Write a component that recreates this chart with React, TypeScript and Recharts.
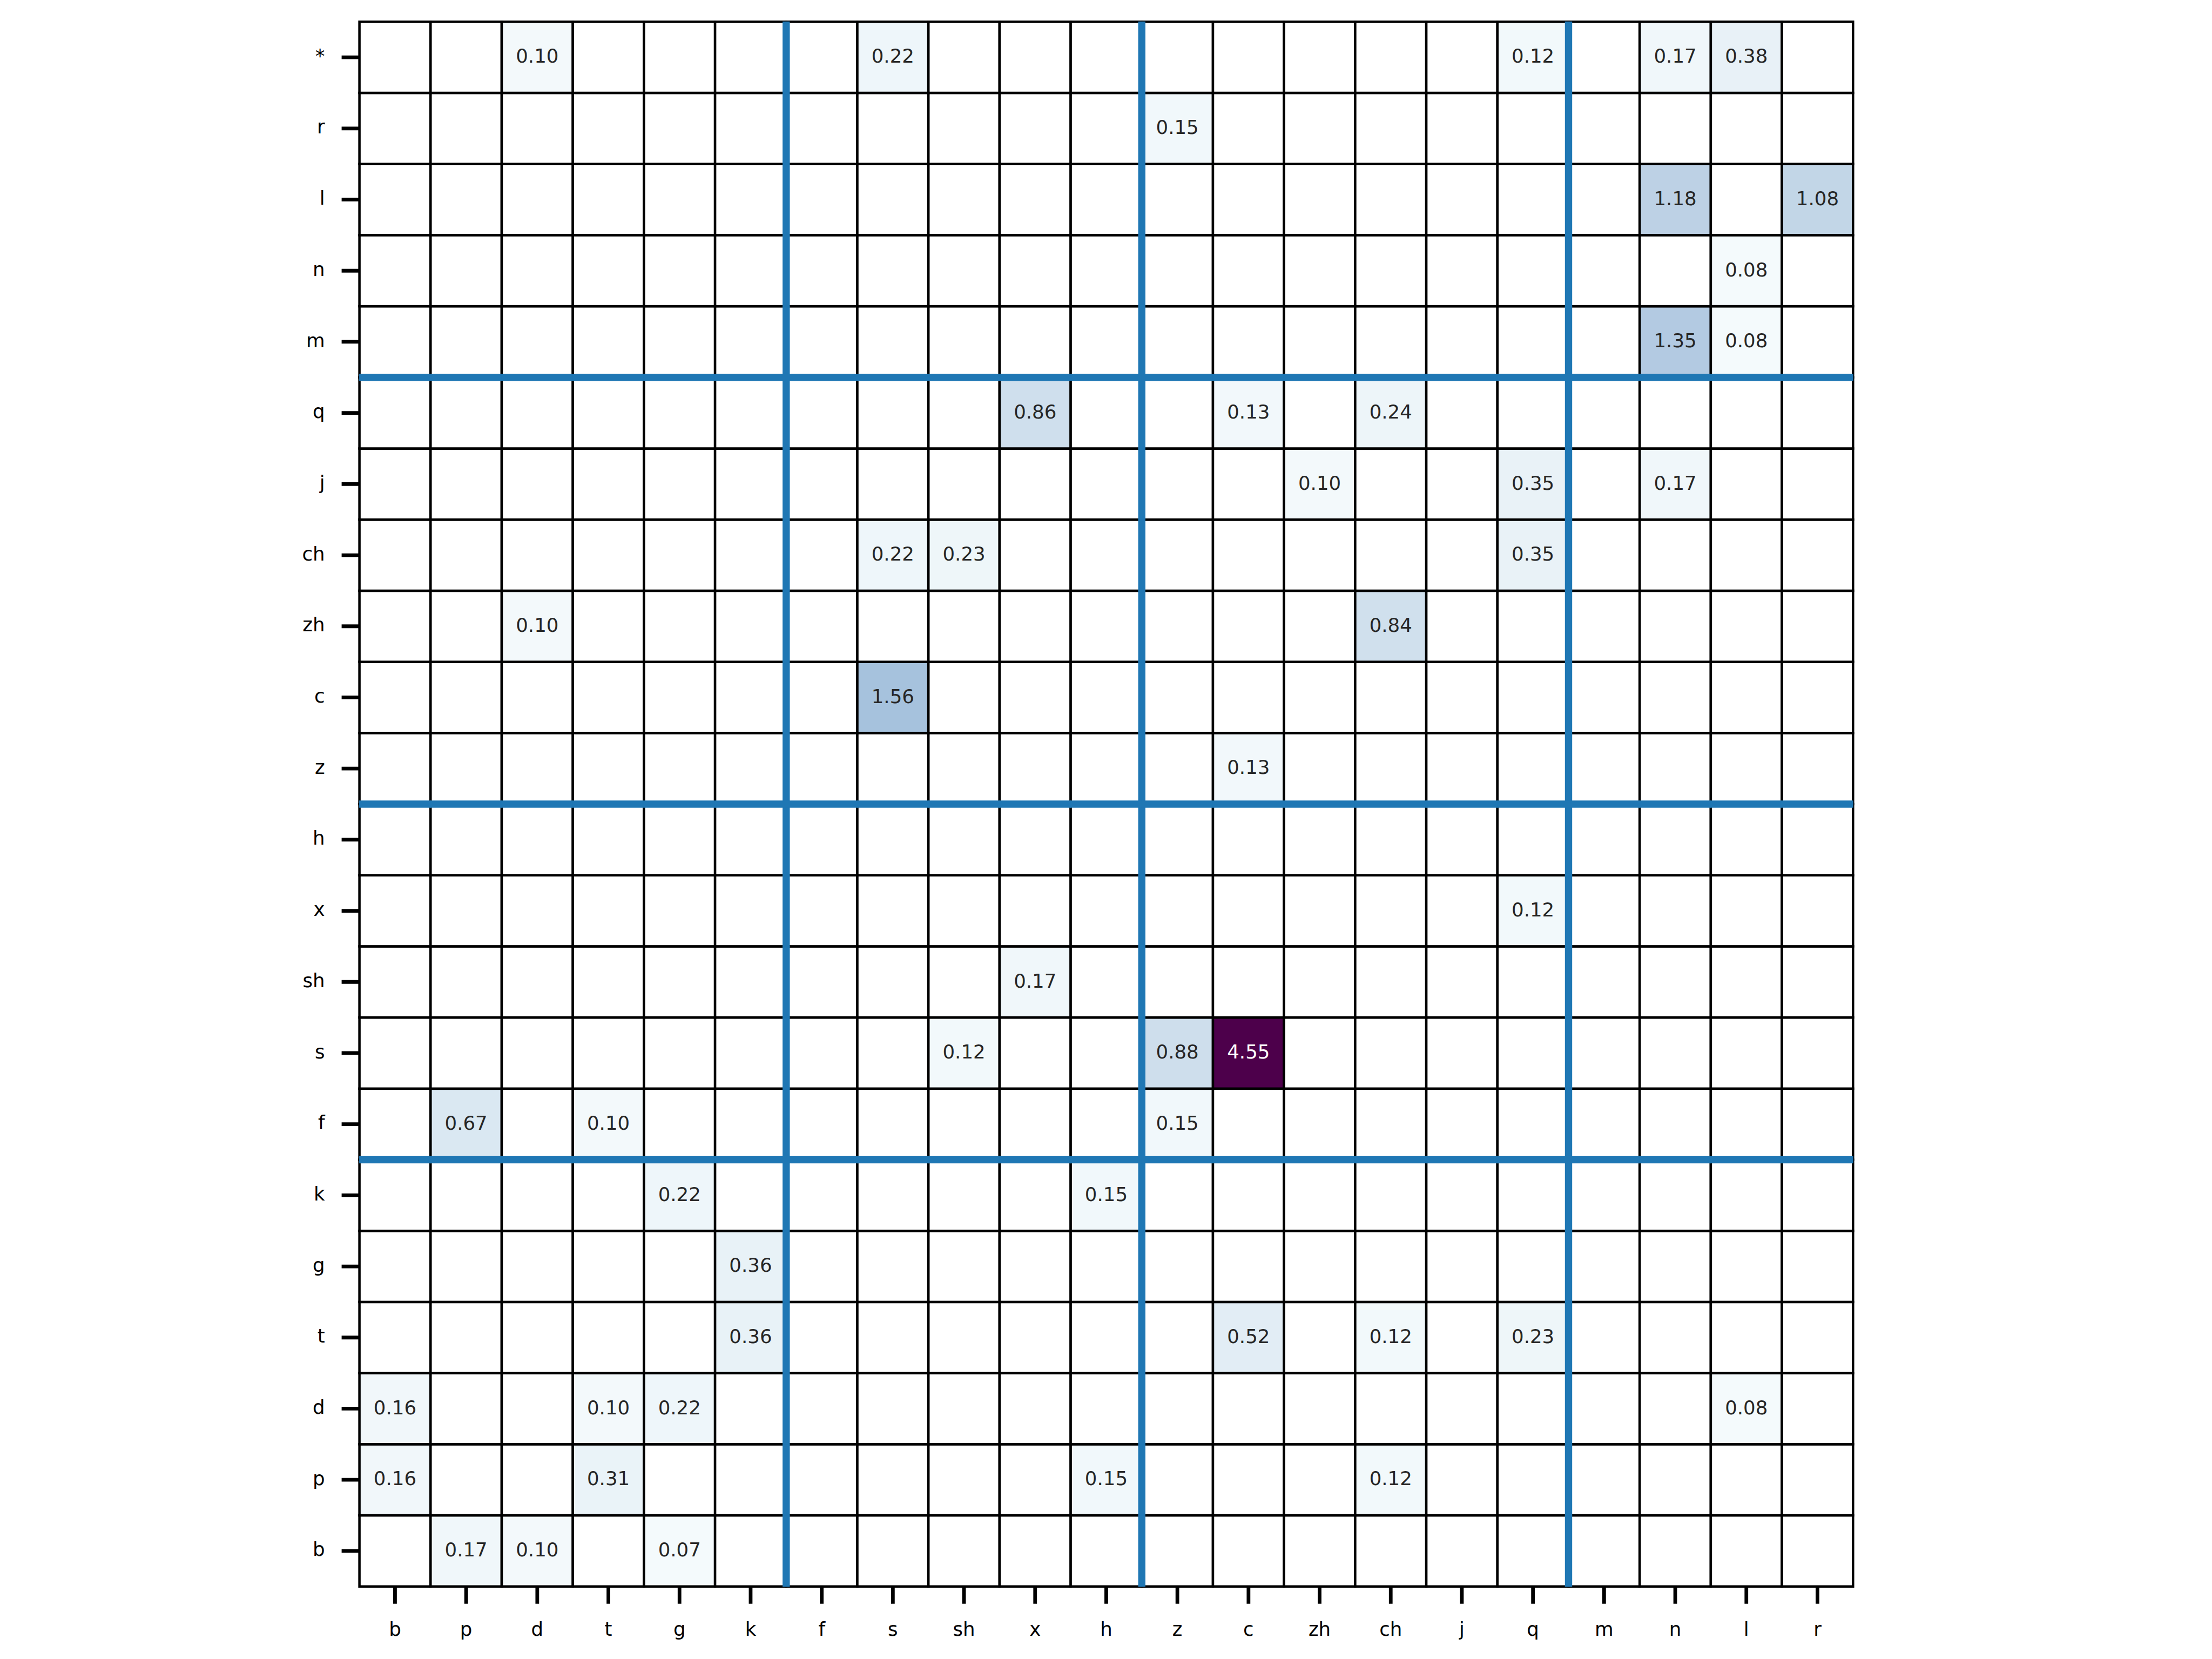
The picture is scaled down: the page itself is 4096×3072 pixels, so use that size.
import React from "react";
import { ScatterChart, Scatter, XAxis, YAxis } from "recharts";

// column categories, left to right
const xCats = ["b", "p", "d", "t", "g", "k", "f", "s", "sh", "x", "h", "z", "c", "zh", "ch", "j", "q", "m", "n", "l", "r"];
// row categories, bottom to top
const yCats = ["b", "p", "d", "t", "g", "k", "f", "s", "sh", "x", "h", "z", "c", "zh", "ch", "j", "q", "m", "n", "l", "r", "*"];

// non-empty cells: [row, column, value]
const cellValues: [string, string, number][] = [
  ["*", "d", 0.1], ["*", "s", 0.22], ["*", "q", 0.12], ["*", "n", 0.17], ["*", "l", 0.38],
  ["r", "z", 0.15],
  ["l", "n", 1.18], ["l", "r", 1.08],
  ["n", "l", 0.08],
  ["m", "n", 1.35], ["m", "l", 0.08],
  ["q", "x", 0.86], ["q", "c", 0.13], ["q", "ch", 0.24],
  ["j", "zh", 0.1], ["j", "q", 0.35], ["j", "n", 0.17],
  ["ch", "s", 0.22], ["ch", "sh", 0.23], ["ch", "q", 0.35],
  ["zh", "d", 0.1], ["zh", "ch", 0.84],
  ["c", "s", 1.56],
  ["z", "c", 0.13],
  ["x", "q", 0.12],
  ["sh", "x", 0.17],
  ["s", "sh", 0.12], ["s", "z", 0.88], ["s", "c", 4.55],
  ["f", "p", 0.67], ["f", "t", 0.1], ["f", "z", 0.15],
  ["k", "g", 0.22], ["k", "h", 0.15],
  ["g", "k", 0.36],
  ["t", "k", 0.36], ["t", "c", 0.52], ["t", "ch", 0.12], ["t", "q", 0.23],
  ["d", "b", 0.16], ["d", "t", 0.1], ["d", "g", 0.22], ["d", "l", 0.08],
  ["p", "b", 0.16], ["p", "t", 0.31], ["p", "h", 0.15], ["p", "ch", 0.12],
  ["b", "p", 0.17], ["b", "d", 0.1], ["b", "g", 0.07],
];

// group boundaries (category index where a new group starts)
const groupBreaks = [6, 11, 17];

const BUPU = [
  [247, 252, 253], [224, 236, 244], [191, 211, 230], [158, 188, 218], [140, 150, 198],
  [140, 107, 177], [136, 65, 157], [129, 15, 124], [77, 0, 75],
];

function bupu(t: number) {
  const s = Math.max(0, Math.min(1, t)) * (BUPU.length - 1);
  const i = Math.min(Math.floor(s), BUPU.length - 2);
  const f = s - i;
  const c = BUPU[i].map((v, k) => Math.round(v + (BUPU[i + 1][k] - v) * f));
  return { fill: `rgb(${c[0]},${c[1]},${c[2]})`, lum: (0.299 * c[0] + 0.587 * c[1] + 0.114 * c[2]) / 255 };
}

const W = 4096;
const H = 3072;
const LEFT = 665.6;
const TOP = 40.3;
const CELL = 131.7;
const PLOT_W = CELL * xCats.length;
const PLOT_H = CELL * yCats.length;
const YAXIS_W = 200;
const XAXIS_H = 100;
const FONT = "DejaVu Sans";
const FS = 35.6;
const GRID_W = 4.5;
const BREAK_W = 13.4;

const vmax = Math.max(...cellValues.map((c) => c[2]));

const lookup = new Map(cellValues.map(([r, c, v]) => [`${r}|${c}`, v]));
const gridData = yCats.flatMap((r, yi) =>
  xCats.map((c, xi) => ({ x: xi + 0.5, y: yi + 0.5, value: lookup.get(`${r}|${c}`) ?? 0 }))
);

// blue separator segments, one per cell edge along each break
const breakData = [
  ...groupBreaks.flatMap((b) => yCats.map((_, yi) => ({ x: b, y: yi + 0.5, dir: "v" }))),
  ...groupBreaks.flatMap((b) => xCats.map((_, xi) => ({ x: xi + 0.5, y: b, dir: "h" }))),
];

const xTicks = xCats.map((_, i) => i + 0.5);
const yTicks = yCats.map((_, i) => i + 0.5);

const renderCell = (props: any) => {
  const { cx, cy, payload } = props;
  const v = payload.value;
  const col = v > 0 ? bupu(v / vmax) : { fill: "#ffffff", lum: 1 };
  return (
    <g>
      <rect
        x={cx - CELL / 2}
        y={cy - CELL / 2}
        width={CELL}
        height={CELL}
        fill={col.fill}
        stroke="#000"
        strokeWidth={GRID_W}
      />
      {v > 0 && (
        <text
          x={cx}
          y={cy + 10.3}
          textAnchor="middle"
          fontFamily={FONT}
          fontSize={FS}
          fill={col.lum < 0.41 ? "#ffffff" : "#262626"}
        >
          {v.toFixed(2)}
        </text>
      )}
    </g>
  );
};

const renderBreak = (props: any) => {
  const { cx, cy, payload } = props;
  if (payload.dir === "v") {
    return <rect x={cx - BREAK_W / 2} y={cy - CELL / 2 - 0.5} width={BREAK_W} height={CELL + 1} fill="#1f77b4" />;
  }
  return <rect x={cx - CELL / 2 - 0.5} y={cy - BREAK_W / 2} width={CELL + 1} height={BREAK_W} fill="#1f77b4" />;
};

const XTick = (props: any) => {
  const { x, y, payload } = props;
  return (
    <text x={x} y={y + 59.3} textAnchor="middle" fontFamily={FONT} fontSize={FS} fill="#000">
      {xCats[Math.floor(payload.value)]}
    </text>
  );
};

const YTick = (props: any) => {
  const { x, y, payload } = props;
  return (
    <text x={x - 31} y={y + 9.6} textAnchor="end" fontFamily={FONT} fontSize={FS} fill="#000">
      {yCats[Math.floor(payload.value)]}
    </text>
  );
};

export default function App() {
  return (
    <div style={{ position: "absolute", left: 0, top: 0, width: W, height: H, background: "#fff" }}>
      <ScatterChart
        width={W}
        height={H}
        margin={{
          top: TOP,
          left: LEFT - YAXIS_W,
          right: W - LEFT - PLOT_W,
          bottom: H - TOP - PLOT_H - XAXIS_H,
        }}
      >
        <XAxis
          type="number"
          dataKey="x"
          domain={[0, xCats.length]}
          ticks={xTicks}
          interval={0}
          height={XAXIS_H}
          axisLine={false}
          tickLine={{ stroke: "#000", strokeWidth: 6.8 }}
          tickSize={32}
          tickMargin={0}
          tick={<XTick />}
        />
        <YAxis
          type="number"
          dataKey="y"
          domain={[0, yCats.length]}
          ticks={yTicks}
          interval={0}
          width={YAXIS_W}
          axisLine={false}
          tickLine={{ stroke: "#000", strokeWidth: 6.8 }}
          tickSize={33}
          tickMargin={0}
          tick={<YTick />}
        />
        <Scatter data={gridData} shape={renderCell} isAnimationActive={false} />
        <Scatter data={breakData} shape={renderBreak} isAnimationActive={false} />
      </ScatterChart>
    </div>
  );
}
